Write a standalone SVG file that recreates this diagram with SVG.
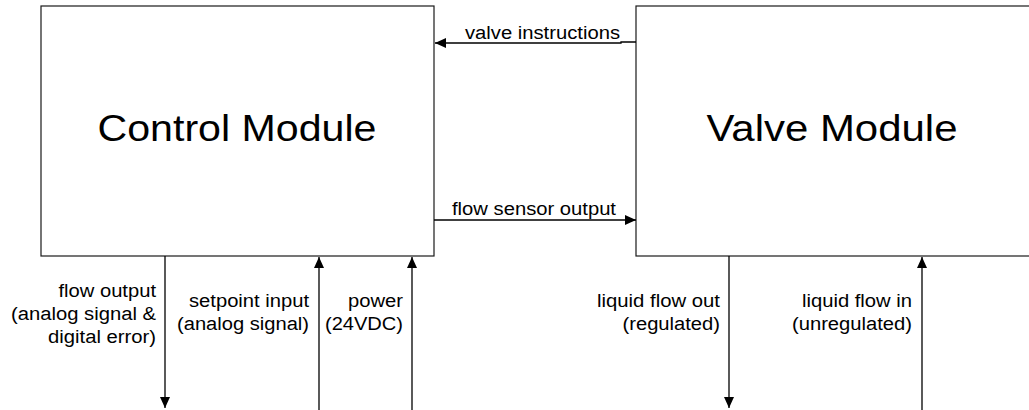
<svg xmlns="http://www.w3.org/2000/svg" width="1029" height="410" viewBox="0 0 1029 410">
<style>
.box{fill:#fff;stroke:#1a1a1a;stroke-width:1.2}
.t{font-family:"Liberation Sans",Arial,sans-serif;font-size:18px;fill:#000}
.title{font-family:"Liberation Sans",Arial,sans-serif;font-size:36px;fill:#000;text-anchor:middle}
.e{text-anchor:end}
.c{fill:none;stroke:#000;stroke-width:1.3}
</style>
<defs>
<marker id="ah" viewBox="0 0 11 10" refX="11" refY="5" markerWidth="11" markerHeight="10" markerUnits="userSpaceOnUse" orient="auto">
<path d="M0,0 L11,5 L0,10 Z" fill="#000"/>
</marker>
</defs>
<rect width="1029" height="410" fill="#fff"/>
<g id="control-module">
<rect class="box" x="41" y="6" width="393" height="250"/>
<text class="title" x="237" y="141" textLength="279" lengthAdjust="spacingAndGlyphs">Control Module</text>
</g>
<g id="valve-module">
<rect class="box" x="636" y="6" width="400" height="250"/>
<text class="title" x="832" y="141" textLength="251" lengthAdjust="spacingAndGlyphs">Valve Module</text>
</g>
<g id="connectors">
<path class="c" d="M636,42 H621 V43 H435" marker-end="url(#ah)"/>
<path class="c" d="M434,220 H636" marker-end="url(#ah)"/>
<path class="c" d="M165,256 V408" marker-end="url(#ah)"/>
<path class="c" d="M319,410 V257" marker-end="url(#ah)"/>
<path class="c" d="M412,410 V257" marker-end="url(#ah)"/>
<path class="c" d="M729,256 V408" marker-end="url(#ah)"/>
<path class="c" d="M922,410 V257" marker-end="url(#ah)"/>
</g>
<g id="labels">
<text class="t" x="465" y="39" textLength="155" lengthAdjust="spacingAndGlyphs">valve instructions</text>
<text class="t" x="452" y="215" textLength="164" lengthAdjust="spacingAndGlyphs">flow sensor output</text>
<text class="t e" x="156" y="297" textLength="97.5" lengthAdjust="spacingAndGlyphs">flow output</text>
<text class="t e" x="156" y="320" textLength="145" lengthAdjust="spacingAndGlyphs">(analog signal &amp;</text>
<text class="t e" x="156" y="343" textLength="108" lengthAdjust="spacingAndGlyphs">digital error)</text>
<text class="t e" x="309" y="307" textLength="120" lengthAdjust="spacingAndGlyphs">setpoint input</text>
<text class="t e" x="309" y="330" textLength="132" lengthAdjust="spacingAndGlyphs">(analog signal)</text>
<text class="t e" x="403" y="307" textLength="55" lengthAdjust="spacingAndGlyphs">power</text>
<text class="t e" x="403" y="330" textLength="78" lengthAdjust="spacingAndGlyphs">(24VDC)</text>
<text class="t e" x="720" y="307" textLength="123" lengthAdjust="spacingAndGlyphs">liquid flow out</text>
<text class="t e" x="720" y="330" textLength="97.5" lengthAdjust="spacingAndGlyphs">(regulated)</text>
<text class="t e" x="912" y="307" textLength="110" lengthAdjust="spacingAndGlyphs">liquid flow in</text>
<text class="t e" x="912" y="330" textLength="120" lengthAdjust="spacingAndGlyphs">(unregulated)</text>
</g>
</svg>
